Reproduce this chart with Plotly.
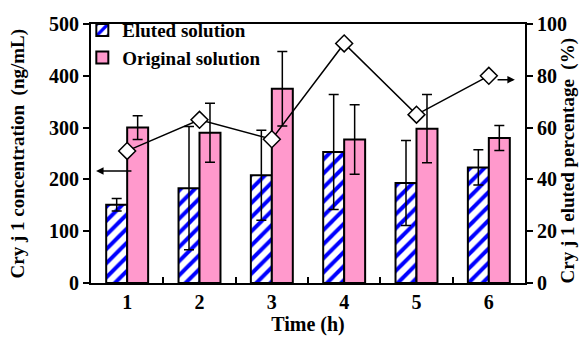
import plotly.graph_objects as go

hours = [1, 2, 3, 4, 5, 6]
eluted = [151, 183, 208, 253, 193, 223]
eluted_err = [12, 119, 87, 111, 82, 34]
original = [300, 290, 375, 277, 298, 280]
original_err = [23, 57, 72, 67, 66, 24]
eluted_pct = [51, 63, 55.5, 92.5, 65, 80]

FAM = "Liberation Serif, Times New Roman, serif"
FONT = dict(family=FAM, size=20, color="black", weight="bold")
TFONT = dict(family=FAM, size=19, color="black", weight="bold")
LFONT = dict(family=FAM, size=19, color="black", weight="bold")
BLUE = "#0000FF"
PINK = "#FF99CC"

fig = go.Figure()
fig.add_trace(go.Bar(
    x=hours, y=eluted, name="Eluted solution",
    marker=dict(color="white", line=dict(color="black", width=2),
                pattern=dict(shape="/", fgcolor=BLUE, bgcolor="white", size=10, solidity=0.4, fillmode="replace")),
    error_y=dict(type="data", array=eluted_err, color="black", thickness=1.5, width=5),
))
fig.add_trace(go.Bar(
    x=hours, y=original, name="Original solution",
    marker=dict(color=PINK, line=dict(color="black", width=2)),
    error_y=dict(type="data", array=original_err, color="black", thickness=1.5, width=5),
))
fig.add_trace(go.Scatter(
    x=hours, y=eluted_pct, yaxis="y2", mode="lines+markers", showlegend=False,
    line=dict(color="black", width=1.5),
    marker=dict(symbol="diamond", size=13, color="white", line=dict(color="black", width=1.5)),
))
# invisible trace to carry category-boundary tick axis
fig.add_trace(go.Scatter(x=[None], y=[None], xaxis="x2", showlegend=False, hoverinfo="skip"))

fig.update_layout(
    width=587, height=338,
    margin=dict(l=83, r=70, t=16, b=63, autoexpand=False),
    paper_bgcolor="white", plot_bgcolor="white",
    font=FONT,
    barmode="group", bargap=0.42, bargroupgap=0,
    showlegend=True,
    legend=dict(x=-0.02, y=1.05, xanchor="left", yanchor="top", bgcolor="rgba(0,0,0,0)",
                font=LFONT, tracegroupgap=0, itemwidth=30),
    xaxis=dict(range=[0.5, 6.5], tickvals=hours, ticktext=[str(h) for h in hours],
               ticks="", showline=True, linecolor="black", linewidth=2, mirror=True,
               showgrid=False, zeroline=False, automargin=False,
               title=dict(text="Time (h)", font=FONT, standoff=4)),
    xaxis2=dict(range=[0.5, 6.5], overlaying="x", side="bottom", anchor="y",
                tickvals=[1.5, 2.5, 3.5, 4.5, 5.5], ticks="inside", ticklen=6, tickwidth=2,
                tickcolor="black", showticklabels=False, showgrid=False, zeroline=False,
                showline=False, automargin=False),
    yaxis=dict(range=[0, 500], dtick=100, ticks="outside", ticklen=6, tickwidth=2, tickcolor="black",
               showline=True, linecolor="black", linewidth=2, showgrid=False, zeroline=False,
               automargin=False),
    yaxis2=dict(range=[0, 100], dtick=20, overlaying="y", side="right", ticks="outside", ticklen=6,
                tickwidth=2, tickcolor="black", showline=True, linecolor="black", linewidth=2,
                showgrid=False, zeroline=False, automargin=False),
    annotations=[
        dict(text="Cry j 1 concentration\u00a0\u00a0(ng/mL)", textangle=-90, font=TFONT,
             xref="paper", yref="paper", x=0, y=0.5, xanchor="center", yanchor="middle",
             xshift=-74, showarrow=False),
        dict(text="Cry j 1 eluted percentage\u00a0\u00a0(%)", textangle=-90, font=TFONT,
             xref="paper", yref="paper", x=1, y=0.5, xanchor="center", yanchor="middle",
             xshift=42, yshift=-7, showarrow=False),
        dict(x=0.57, y=216, xref="x", yref="y", ax=1.08, ay=216, axref="x", ayref="y",
             showarrow=True, arrowhead=2, arrowsize=1, arrowwidth=1.5, arrowcolor="black", text=""),
        dict(x=6.36, y=78.5, xref="x", yref="y2", ax=6.1, ay=78.5, axref="x", ayref="y2",
             showarrow=True, arrowhead=2, arrowsize=1, arrowwidth=1.5, arrowcolor="black", text=""),
    ],
)

fig.write_html("out.html")
